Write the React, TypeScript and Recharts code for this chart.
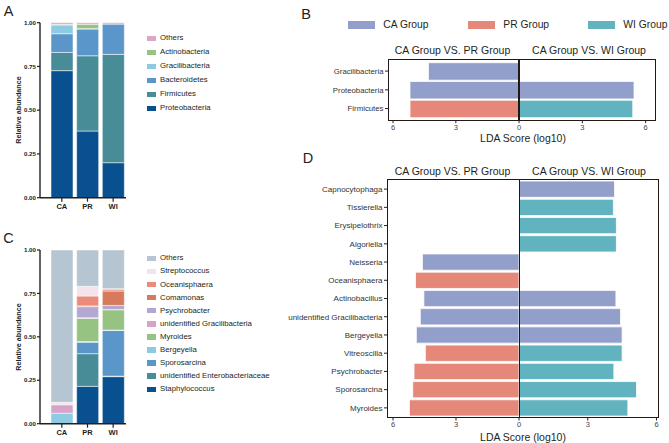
import { BarChart, Bar, XAxis, YAxis, Cell } from 'recharts';

const FONT = '"Liberation Sans", Arial, sans-serif';
const INK = '#231f20';

// A: phylum composition
const groupsAC = ['CA', 'PR', 'WI'];
const phyla = ['Proteobacteria', 'Firmicutes', 'Bacteroidetes', 'Gracilibacteria', 'Actinobacteria', 'Others'];
const proteobacteria = [0.726, 0.381, 0.2];
const firmicutes = [0.104, 0.43, 0.619];
const bacteroidetes = [0.107, 0.153, 0.173];
const gracilibacteria = [0.05, 0.002, 0.0];
const actinobacteria = [0.003, 0.025, 0.0];
const othersA = [0.01, 0.009, 0.008];
const phylaColors = ['#08508f', '#478c96', '#5b96cb', '#8dcbe2', '#96c282', '#d9a8c9'];

// C: genus composition
const genera = [
  'Staphylococcus', 'unidentified Enterobacteriaceae', 'Sporosarcina', 'Bergeyella', 'Myroides',
  'unidentified Gracilibacteria', 'Psychrobacter', 'Comamonas', 'Oceanisphaera', 'Streptococcus', 'Others',
];
const staphylococcus = [0, 0.215, 0.271];
const enterobacteriaceae = [0, 0.188, 0.003];
const sporosarcina = [0, 0.066, 0.263];
const bergeyella = [0.06, 0.004, 0.002];
const myroides = [0, 0.134, 0.117];
const unidGracilibacteria = [0.049, 0.003, 0.001];
const psychrobacter = [0, 0.064, 0.024];
const comamonas = [0, 0.004, 0.083];
const oceanisphaera = [0, 0.057, 0.011];
const streptococcus = [0.014, 0.056, 0.002];
const othersC = [0.877, 0.209, 0.223];
const generaColors = [
  '#08508f', '#478c96', '#5b96cb', '#8dcbe2', '#96c282', '#d6a4c8',
  '#b4a8d3', '#d77a5c', '#ec8b7b', '#f4e3ea', '#b5c5d2',
];

// B / D: LEfSe LDA scores
const groupColors: Record<string, string> = { CA: '#939fcb', PR: '#e5887a', WI: '#60b3bf' };
const legendGroups = ['CA', 'PR', 'WI'];

const bTaxa = ['Gracilibacteria', 'Proteobacteria', 'Firmicutes'];
const bLeft = [4.31, 5.19, 5.19];
const bLeftGroup = ['CA', 'CA', 'PR'];
const bRight = [0, 5.45, 5.39];
const bRightGroup = ['', 'CA', 'WI'];

const dTaxa = [
  'Capnocytophaga', 'Tissierella', 'Erysipelothrix', 'Algoriella', 'Neisseria', 'Oceanisphaera',
  'Actinobacillus', 'unidentified Gracilibacteria', 'Bergeyella', 'Vitreoscilla', 'Psychrobacter',
  'Sporosarcina', 'Myroides',
];
const dLeft = [0, 0, 0, 0, 4.6, 4.93, 4.53, 4.7, 4.89, 4.46, 5.0, 5.06, 5.22];
const dLeftGroup = ['', '', '', '', 'CA', 'PR', 'CA', 'CA', 'CA', 'PR', 'PR', 'PR', 'PR'];
const dRight = [4.17, 4.12, 4.25, 4.25, 0, 0, 4.23, 4.43, 4.5, 4.5, 4.14, 5.13, 4.75];
const dRightGroup = ['CA', 'WI', 'WI', 'WI', '', '', 'CA', 'CA', 'CA', 'WI', 'WI', 'WI', 'WI'];

const lda = [0, 3, 6];
const yTicks = [0, 0.25, 0.5, 0.75, 1];

const phylaRows = groupsAC.map((g, i) => ({
  group: g,
  Proteobacteria: proteobacteria[i],
  Firmicutes: firmicutes[i],
  Bacteroidetes: bacteroidetes[i],
  Gracilibacteria: gracilibacteria[i],
  Actinobacteria: actinobacteria[i],
  Others: othersA[i],
}));

const generaRows = groupsAC.map((g, i) => ({
  group: g,
  Staphylococcus: staphylococcus[i],
  'unidentified Enterobacteriaceae': enterobacteriaceae[i],
  Sporosarcina: sporosarcina[i],
  Bergeyella: bergeyella[i],
  Myroides: myroides[i],
  'unidentified Gracilibacteria': unidGracilibacteria[i],
  Psychrobacter: psychrobacter[i],
  Comamonas: comamonas[i],
  Oceanisphaera: oceanisphaera[i],
  Streptococcus: streptococcus[i],
  Others: othersC[i],
}));

const Txt = ({ x, y, size, weight = 400, rotate = false, children }: any) => (
  <div
    style={{
      position: 'absolute', left: x, top: y, fontSize: size, fontWeight: weight, lineHeight: 1,
      whiteSpace: 'nowrap', transform: `translate(-50%, -50%)${rotate ? ' rotate(-90deg)' : ''}`,
    }}
  >
    {children}
  </div>
);

function StackChart({ rows, keys, colors, top, height, marginTop }: any) {
  return (
    <div style={{ position: 'absolute', left: 0, top }}>
      <BarChart width={135} height={height} data={rows} margin={{ top: marginTop, right: 9, bottom: 0, left: 0 }}>
        <XAxis
          dataKey="group"
          padding={{ left: 9, right: 0 }}
          height={17.3}
          tickSize={4}
          tickMargin={1.5}
          interval={0}
          axisLine={{ stroke: INK, strokeWidth: 1.4 }}
          tickLine={{ stroke: INK, strokeWidth: 1.2 }}
          tick={{ fontSize: 7.5, fontWeight: 700, fill: INK, fontFamily: FONT }}
        />
        <YAxis
          type="number"
          domain={[0, 1]}
          ticks={yTicks}
          tickFormatter={(v: number) => v.toFixed(2)}
          width={40}
          tickSize={3}
          tickMargin={1}
          interval={0}
          axisLine={{ stroke: INK, strokeWidth: 1.4 }}
          tickLine={{ stroke: INK, strokeWidth: 1.2 }}
          tick={{ fontSize: 6.2, fontWeight: 700, fill: INK, fontFamily: FONT }}
        />
        {keys.map((k: string, i: number) => (
          <Bar key={k} dataKey={k} stackId="s" fill={colors[i]} stroke="#fff" strokeWidth={0.5} barSize={22} isAnimationActive={false} />
        ))}
      </BarChart>
    </div>
  );
}

function StackLegend({ keys, colors, y0, step }: any) {
  const items = keys.map((k: string, i: number) => ({ k, c: colors[i] })).reverse();
  return (
    <>
      {items.map((it: any, i: number) => (
        <div key={it.k}>
          <div style={{ position: 'absolute', left: 147, top: y0 + i * step - 2.8, width: 8.5, height: 5.6, background: it.c }} />
          <div style={{ position: 'absolute', left: 160, top: y0 + i * step, transform: 'translateY(-50%)', fontSize: 7.8, lineHeight: 1, whiteSpace: 'nowrap' }}>
            {it.k}
          </div>
        </div>
      ))}
    </>
  );
}

const TaxonTick = ({ x, y, payload, size }: any) => (
  <text x={x} y={y} dy="0.355em" textAnchor="end" fontSize={size} fill="#333" fontFamily={FONT}>
    {payload.value}
  </text>
);

function LdaPanel({ taxa, left, leftGroup, right, rightGroup, top, boxLeft, zero, boxRight, plotH, leftMax, rightMax, pad, barSize, labelSize }: any) {
  const leftRows = taxa.map((t: string, i: number) => ({ taxon: t, value: left[i], group: leftGroup[i] }));
  const rightRows = taxa.map((t: string, i: number) => ({ taxon: t, value: right[i], group: rightGroup[i] }));
  const labelW = 125;
  const side = 10;
  const h = plotH + 16;
  const xCommon = {
    type: 'number' as const,
    axisLine: false,
    tickSize: 2.5,
    tickMargin: 1,
    height: 16,
    interval: 0 as const,
    allowDataOverflow: true,
    tickLine: { stroke: INK, strokeWidth: 1 },
    tick: { fontSize: 7.5, fill: '#444', fontFamily: FONT },
  };
  return (
    <>
      <div style={{ position: 'absolute', left: boxLeft - labelW, top }}>
        <BarChart layout="vertical" width={zero - boxLeft + labelW} height={h} data={leftRows} margin={{ top: 0, right: 0, bottom: 0, left: 0 }}>
          <XAxis {...xCommon} domain={[0, leftMax]} ticks={lda.slice(1)} reversed />
          <YAxis
            type="category"
            dataKey="taxon"
            width={labelW}
            interval={0}
            padding={{ top: pad, bottom: pad }}
            axisLine={false}
            tickSize={3}
            tickMargin={1.5}
            tickLine={{ stroke: INK, strokeWidth: 1 }}
            tick={<TaxonTick size={labelSize} />}
          />
          <Bar dataKey="value" barSize={barSize} stroke="#fff" strokeWidth={0.8} isAnimationActive={false}>
            {leftRows.map((r: any, i: number) => (
              <Cell key={i} fill={groupColors[r.group] || 'transparent'} />
            ))}
          </Bar>
        </BarChart>
      </div>
      <div style={{ position: 'absolute', left: zero - side, top }}>
        <BarChart layout="vertical" width={boxRight - zero + 2 * side} height={h} data={rightRows} margin={{ top: 0, right: side, bottom: 0, left: side }}>
          <XAxis {...xCommon} domain={[0, rightMax]} ticks={lda} />
          <YAxis type="category" dataKey="taxon" hide width={0} padding={{ top: pad, bottom: pad }} />
          <Bar dataKey="value" barSize={barSize} stroke="#fff" strokeWidth={0.8} isAnimationActive={false}>
            {rightRows.map((r: any, i: number) => (
              <Cell key={i} fill={groupColors[r.group] || 'transparent'} />
            ))}
          </Bar>
        </BarChart>
      </div>
      <div style={{ position: 'absolute', left: boxLeft, top, width: boxRight - boxLeft, height: plotH, border: '1.3px solid #231815', boxSizing: 'border-box' }} />
      <div style={{ position: 'absolute', left: zero - 0.6, top, width: 1.2, height: plotH, background: '#231815' }} />
    </>
  );
}

export default function App() {
  return (
    <div style={{ position: 'absolute', left: 0, top: 0, width: 669, height: 443, background: '#fff', fontFamily: FONT, color: INK, overflow: 'hidden' }}>
      <Txt x={8.5} y={11} size={14.5}>A</Txt>
      <Txt x={306} y={13.5} size={14.5}>B</Txt>
      <Txt x={8.5} y={237.5} size={14.5}>C</Txt>
      <Txt x={308} y={158} size={14.5}>D</Txt>

      <StackChart rows={phylaRows} keys={phyla} colors={phylaColors} top={0} height={215} marginTop={22.7} />
      <Txt x={19.3} y={110} size={7.2} weight={700} rotate>Relative abundance</Txt>
      <StackLegend keys={phyla} colors={phylaColors} y0={38.3} step={14} />

      <StackChart rows={generaRows} keys={genera} colors={generaColors} top={227} height={214} marginTop={23} />
      <Txt x={19.3} y={336.7} size={7.2} weight={700} rotate>Relative abundance</Txt>
      <StackLegend keys={genera} colors={generaColors} y0={258.3} step={13.1} />

      {legendGroups.map((g, i) => (
        <div key={g}>
          <div style={{ position: 'absolute', left: 348.3 + i * 120, top: 21.3, width: 26.7, height: 7.3, background: groupColors[g] }} />
          <div style={{ position: 'absolute', left: 383.3 + i * 120, top: 24.7, transform: 'translateY(-50%)', fontSize: 10.3, lineHeight: 1, whiteSpace: 'nowrap' }}>
            {g} Group
          </div>
        </div>
      ))}

      <Txt x={452.5} y={50} size={10.5}>CA Group VS. PR Group</Txt>
      <Txt x={589} y={50} size={10.5}>CA Group VS. WI Group</Txt>
      <LdaPanel
        taxa={bTaxa} left={bLeft} leftGroup={bLeftGroup} right={bRight} rightGroup={bRightGroup}
        top={59.3} boxLeft={388.3} zero={519} boxRight={656} plotH={61.7}
        leftMax={6.24} rightMax={6.49} pad={2.7} barSize={17.5} labelSize={7.8}
      />
      <Txt x={523} y={137.7} size={10.5}>LDA Score (log10)</Txt>

      <Txt x={452.5} y={170.7} size={10.5}>CA Group VS. PR Group</Txt>
      <Txt x={589} y={170.7} size={10.5}>CA Group VS. WI Group</Txt>
      <LdaPanel
        taxa={dTaxa} left={dLeft} leftGroup={dLeftGroup} right={dRight} rightGroup={dRightGroup}
        top={179.3} boxLeft={387.3} zero={519.3} boxRight={659.3} plotH={239}
        leftMax={6.286} rightMax={6.11} pad={1} barSize={16.3} labelSize={8}
      />
      <Txt x={523} y={437.3} size={10.5}>LDA Score (log10)</Txt>
    </div>
  );
}
